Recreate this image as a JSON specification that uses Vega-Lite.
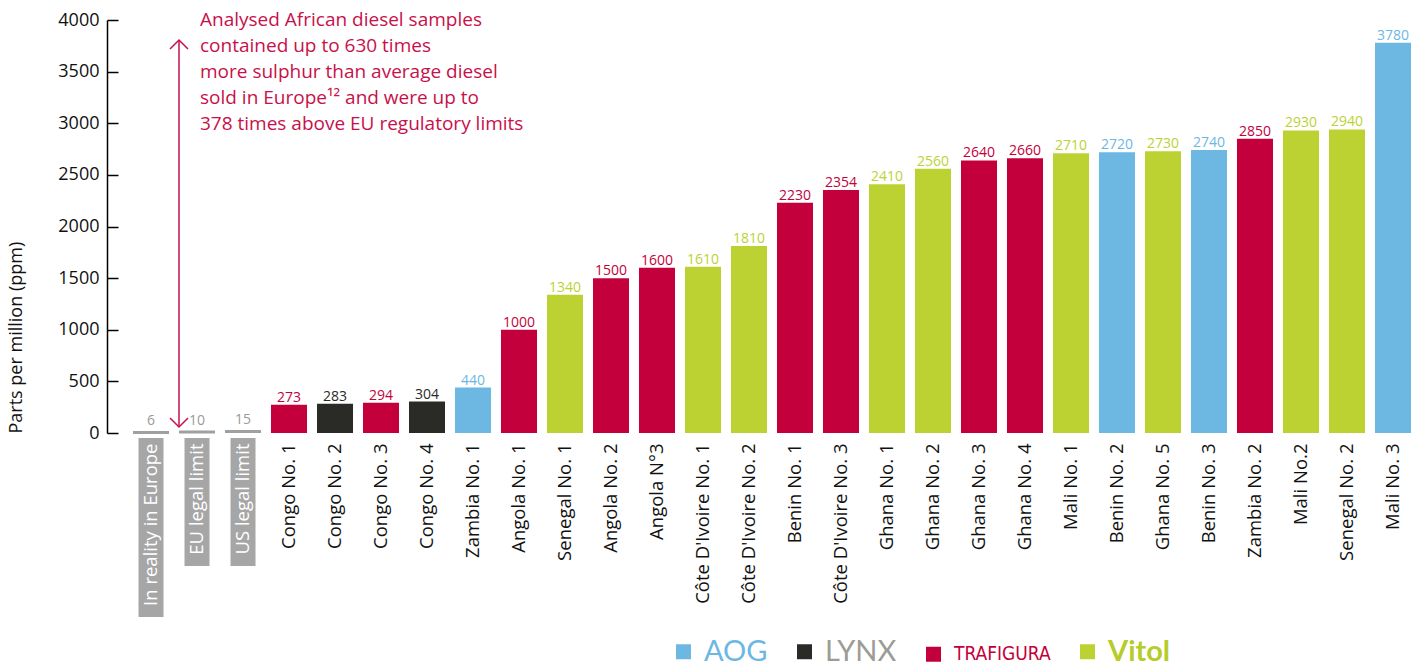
{
  "$schema": "https://vega.github.io/schema/vega-lite/v6.json",
  "width": 1288,
  "height": 413,
  "autosize": "none",
  "padding": {"left": 128, "top": 20, "right": 10, "bottom": 235},
  "background": "white",
  "config": {"view": {"stroke": null}, "font": "Open Sans"},
  "data": {
    "values": [
      {"sample": "In reality in Europe", "ppm": 6, "company": "Reference"},
      {"sample": "EU legal limit", "ppm": 10, "company": "Reference"},
      {"sample": "US legal limit", "ppm": 15, "company": "Reference"},
      {"sample": "Congo No. 1", "ppm": 273, "company": "TRAFIGURA"},
      {"sample": "Congo No. 2", "ppm": 283, "company": "LYNX"},
      {"sample": "Congo No. 3", "ppm": 294, "company": "TRAFIGURA"},
      {"sample": "Congo No. 4", "ppm": 304, "company": "LYNX"},
      {"sample": "Zambia No. 1", "ppm": 440, "company": "AOG"},
      {"sample": "Angola No. 1", "ppm": 1000, "company": "TRAFIGURA"},
      {"sample": "Senegal No. 1", "ppm": 1340, "company": "Vitol"},
      {"sample": "Angola No. 2", "ppm": 1500, "company": "TRAFIGURA"},
      {"sample": "Angola N°3", "ppm": 1600, "company": "TRAFIGURA"},
      {"sample": "Côte D'Ivoire No. 1", "ppm": 1610, "company": "Vitol"},
      {"sample": "Côte D'Ivoire No. 2", "ppm": 1810, "company": "Vitol"},
      {"sample": "Benin No. 1", "ppm": 2230, "company": "TRAFIGURA"},
      {"sample": "Côte D'Ivoire No. 3", "ppm": 2354, "company": "TRAFIGURA"},
      {"sample": "Ghana No. 1", "ppm": 2410, "company": "Vitol"},
      {"sample": "Ghana No. 2", "ppm": 2560, "company": "Vitol"},
      {"sample": "Ghana No. 3", "ppm": 2640, "company": "TRAFIGURA"},
      {"sample": "Ghana No. 4", "ppm": 2660, "company": "TRAFIGURA"},
      {"sample": "Mali No. 1", "ppm": 2710, "company": "Vitol"},
      {"sample": "Benin No. 2", "ppm": 2720, "company": "AOG"},
      {"sample": "Ghana No. 5", "ppm": 2730, "company": "Vitol"},
      {"sample": "Benin No. 3", "ppm": 2740, "company": "AOG"},
      {"sample": "Zambia No. 2", "ppm": 2850, "company": "TRAFIGURA"},
      {"sample": "Mali No.2", "ppm": 2930, "company": "Vitol"},
      {"sample": "Senegal No. 2", "ppm": 2940, "company": "Vitol"},
      {"sample": "Mali No. 3", "ppm": 3780, "company": "AOG"}
    ]
  },
  "encoding": {
    "x": {
      "field": "sample",
      "type": "nominal",
      "sort": null,
      "scale": {"paddingInner": 0.217, "paddingOuter": 0.1087},
      "axis": {
        "title": null,
        "domain": false,
        "ticks": false,
        "labelAngle": -90,
        "labelAlign": "right",
        "labelBaseline": "middle",
        "labelPadding": 10,
        "labelFontSize": 18.5,
        "labelLimit": 300,
        "labelColor": {
          "condition": {"test": "indexof(['In reality in Europe','EU legal limit','US legal limit'], datum.value) >= 0", "value": "white"},
          "value": "#111111"
        },
        "zindex": 1
      }
    }
  },
  "layer": [
    {
      "mark": {"type": "bar"},
      "encoding": {
        "y": {
          "field": "ppm",
          "type": "quantitative",
          "scale": {"domain": [0, 4000], "nice": false},
          "axis": {
            "title": "Parts per million (ppm)",
            "values": [0, 500, 1000, 1500, 2000, 2500, 3000, 3500, 4000],
            "format": "d",
            "grid": false,
            "offset": 21,
            "domainColor": "black",
            "domainWidth": 1.5,
            "tickColor": "black",
            "tickWidth": 1.5,
            "tickSize": -11,
            "labelFontSize": 18,
            "labelColor": "#111111",
            "labelPadding": 19,
            "titleFontSize": 18,
            "titleFontWeight": "normal",
            "titleColor": "#111111",
            "titleAnchor": "start",
            "titlePadding": 32
          }
        },
        "color": {
          "field": "company",
          "type": "nominal",
          "scale": {
            "domain": ["AOG", "LYNX", "TRAFIGURA", "Vitol", "Reference"],
            "range": ["#6db7e3", "#2a2a26", "#c3003b", "#bcd233", "#a0a0a0"]
          },
          "legend": {
            "values": ["AOG", "LYNX", "TRAFIGURA", "Vitol"],
            "title": null,
            "orient": "none",
            "legendX": 541,
            "legendY": 617,
            "direction": "horizontal",
            "symbolType": "square",
            "symbolSize": 225,
            "symbolStrokeWidth": 0,
            "symbolOpacity": 1,
            "labelFontSize": 28,
            "labelOffset": 6,
            "columnPadding": 22,
            "padding": 0,
            "labelLimit": 300,
            "encode": {
              "labels": {
                "update": {
                  "fill": {"signal": "datum.value == 'AOG' ? '#6db7e3' : datum.value == 'LYNX' ? '#9c9c95' : datum.value == 'TRAFIGURA' ? '#c3003b' : '#b5cc2a'"},
                  "fontSize": {"signal": "datum.value == 'TRAFIGURA' ? 19 : 29"},
                  "fontWeight": {"signal": "datum.value == 'Vitol' ? 'bold' : 'normal'"},
                  "font": {"signal": "datum.value == 'TRAFIGURA' ? 'DejaVu Sans Condensed, Lato' : 'Lato'"}
                }
              }
            }
          }
        }
      }
    },
    {
      "transform": [{"filter": "datum.company == 'Reference'"}],
      "mark": {"type": "tick", "thickness": 3, "size": 36, "color": "#a0a0a0", "opacity": 1},
      "encoding": {"y": {"field": "ppm", "type": "quantitative"}}
    },
    {
      "transform": [{"filter": "datum.sample == 'In reality in Europe'"}],
      "mark": {"type": "bar", "width": 25, "color": "#a6a6a6"},
      "encoding": {
        "y": {"datum": -48, "type": "quantitative"},
        "y2": {"datum": -1782}
      }
    },
    {
      "transform": [{"filter": "datum.sample == 'EU legal limit' || datum.sample == 'US legal limit'"}],
      "mark": {"type": "bar", "width": 25, "color": "#a6a6a6"},
      "encoding": {
        "y": {"datum": -48, "type": "quantitative"},
        "y2": {"datum": -1288}
      }
    },
    {
      "transform": [{"filter": "datum.company != 'Reference'"}],
      "mark": {"type": "text", "baseline": "alphabetic", "dy": -3, "fontSize": 14},
      "encoding": {
        "y": {"field": "ppm", "type": "quantitative"},
        "text": {"field": "ppm", "type": "quantitative", "format": "d"},
        "color": {"field": "company", "type": "nominal", "legend": null}
      }
    },
    {
      "transform": [{"filter": "datum.company == 'Reference'"}],
      "mark": {"type": "text", "baseline": "alphabetic", "dy": -7, "fontSize": 14, "color": "#9a9a9a"},
      "encoding": {
        "y": {"field": "ppm", "type": "quantitative"},
        "text": {"field": "ppm", "type": "quantitative"}
      }
    },
    {
      "transform": [{"filter": "datum.sample == 'EU legal limit'"}],
      "mark": {"type": "rule", "color": "#c8104a", "strokeWidth": 1.5},
      "encoding": {
        "x": {"field": "sample", "type": "nominal", "sort": null, "bandPosition": 0},
        "y": {"datum": 3806, "type": "quantitative"},
        "y2": {"datum": 58}
      }
    },
    {
      "transform": [{"filter": "datum.sample == 'EU legal limit'"}],
      "mark": {"type": "point", "shape": "M-1,1L0,0L1,1", "filled": false, "size": 324, "stroke": "#c8104a", "strokeWidth": 1.5, "opacity": 1},
      "encoding": {
        "x": {"field": "sample", "type": "nominal", "sort": null, "bandPosition": 0},
        "y": {"datum": 3806, "type": "quantitative"}
      }
    },
    {
      "transform": [{"filter": "datum.sample == 'EU legal limit'"}],
      "mark": {"type": "point", "shape": "M-1,-1L0,0L1,-1", "filled": false, "size": 324, "stroke": "#c8104a", "strokeWidth": 1.5, "opacity": 1},
      "encoding": {
        "x": {"field": "sample", "type": "nominal", "sort": null, "bandPosition": 0},
        "y": {"datum": 58, "type": "quantitative"}
      }
    },
    {
      "transform": [{"filter": "datum.sample == 'EU legal limit'"}],
      "mark": {
        "type": "text",
        "align": "left",
        "baseline": "alphabetic",
        "dx": 3,
        "fontSize": 19,
        "lineHeight": 26,
        "color": "#c8104a",
        "text": ["Analysed African diesel samples", "contained up to 630 times", "more sulphur than average diesel", "sold in Europe¹² and were up to", "378 times above EU regulatory limits"]
      },
      "encoding": {
        "y": {"datum": 3942, "type": "quantitative"}
      }
    }
  ]
}
